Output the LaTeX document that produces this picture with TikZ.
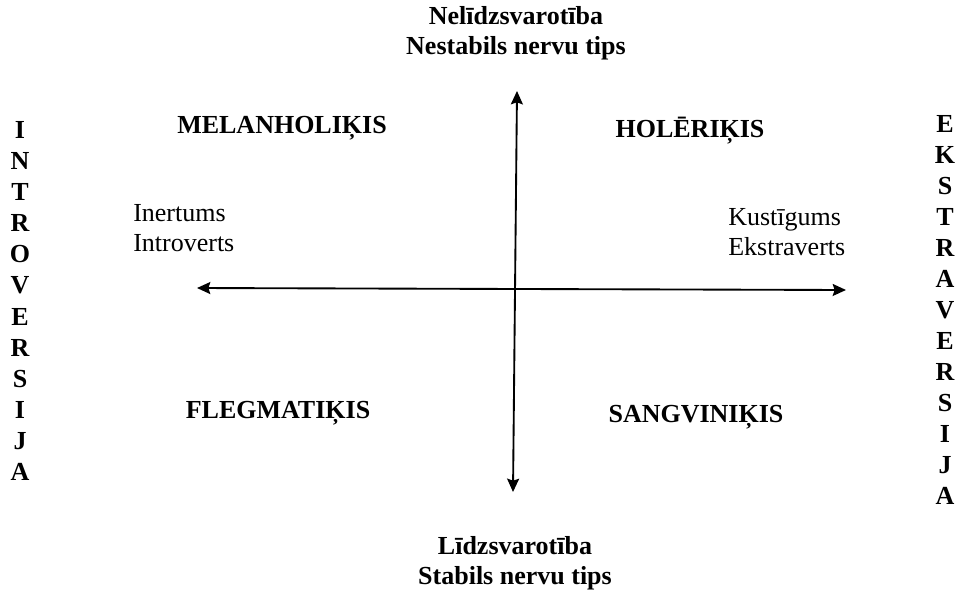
\documentclass[tikz,border=0pt]{standalone}
\usepackage{fontspec}
\setmainfont{Liberation Serif}
\usetikzlibrary{arrows.meta}

\begin{document}
\begin{tikzpicture}[
  x=0.75pt, y=-0.75pt,
  txt/.style={inner sep=0pt, align=center, font=\fontsize{19.5}{22.5}\selectfont},
  temper/.style={txt, font=\fontsize{19.5}{22.5}\selectfont\bfseries},
  pole/.style={txt, font=\fontsize{19.5}{22.5}\selectfont\bfseries},
  trait/.style={txt, align=left, anchor=west},
  letters/.style={txt, font=\fontsize{19.5}{23.3}\selectfont\bfseries},
  axis/.style={{Stealth[length=10pt,width=9pt,inset=1.5pt]}-{Stealth[length=10pt,width=9pt,inset=1.5pt]}, line width=1.4pt, draw=black}
]
\useasboundingbox (0,0) rectangle (956,593);

% Poli augšā un apakšā
\node[pole] (nelidz) at (516,33) {Nelīdzsvarotība\\Nestabils nervu tips};
\node[pole] (lidz) at (515,563) {Līdzsvarotība\\Stabils nervu tips};

% Temperamenti
\node[temper] (melan) at (282,128) {MELANHOLIĶIS};
\node[temper] (holer) at (690,131) {HOLĒRIĶIS};
\node[temper] (flegm) at (278,413) {FLEGMATIĶIS};
\node[temper] (sangv) at (696,417) {SANGVINIĶIS};

% Īpašības
\node[trait] (inert) at (133,228) {Inertums\\Introverts};
\node[trait] (kust) at (728,232) {Kustīgums\\Ekstraverts};

% Vertikālie uzraksti
\node[letters] (introv) at (20,301) {I\\N\\T\\R\\O\\V\\E\\R\\S\\I\\J\\A};
\node[letters] (ekstrav) at (945,310) {E\\K\\S\\T\\R\\A\\V\\E\\R\\S\\I\\J\\A};

% Asis
\coordinate (augsa) at (517,91);
\coordinate (apaksa) at (513,492);
\coordinate (kreisi) at (197,288);
\coordinate (labi) at (846,290);
\draw[axis] (apaksa) -- (augsa);
\draw[axis] (kreisi) -- (labi);
\end{tikzpicture}
\end{document}
